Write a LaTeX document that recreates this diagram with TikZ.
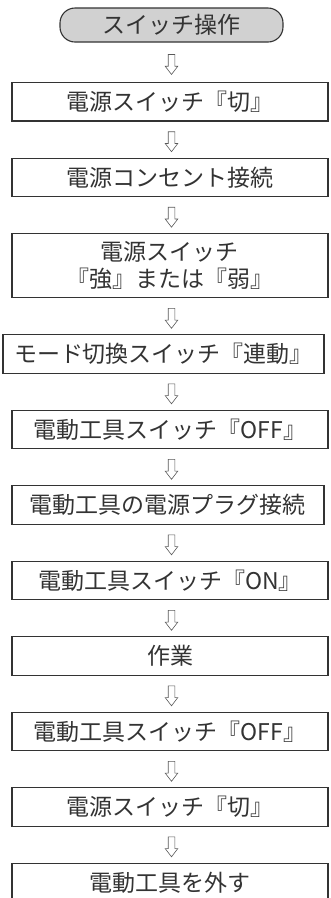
\documentclass[tikz,border=0pt]{standalone}
\usepackage{fontspec}
\setmainfont{Noto Sans CJK JP}
\usetikzlibrary{positioning, calc, shapes.arrows}

\begin{document}
\begin{tikzpicture}[
    x=1pt, y=1pt,
    node distance=36pt,
    stepbox/.style={rectangle, draw=black!80, line width=1.1pt, minimum width=316pt, minimum height=38.4pt, inner sep=0pt, text=black!80, align=center, font=\fontsize{23}{27}\selectfont},
    startbox/.style={rectangle, rounded corners=15pt, draw=black!80, line width=1.1pt, fill=black!18, minimum width=223pt, minimum height=34pt, inner sep=0pt, text=black!80, font=\fontsize{23}{27}\selectfont},
    arrowmark/.style={single arrow, shape border rotate=270, draw=black!65, line width=0.6pt, inner sep=3pt, single arrow head extend=3pt, single arrow tip angle=75, minimum height=20pt}
]
    \useasboundingbox (0,0) rectangle (330,-898);

    % Start
    \node[startbox] (top) at (171.5,-25) {スイッチ操作};

    % Steps
    \node[stepbox, below=39.5pt of top, xshift=-1.5pt] (off1) {電源スイッチ『切』};
    \node[stepbox, below=of off1] (outlet) {電源コンセント接続};
    \node[stepbox, below=of outlet, minimum height=64pt] (power) {電源スイッチ\\『強』または『弱』};
    \node[stepbox, below=of power, minimum width=321pt, xshift=-6.5pt] (mode) {モード切換スイッチ『連動』};
    \node[stepbox, below=of mode, xshift=6.5pt] (tooloff1) {電動工具スイッチ『OFF』};
    \node[stepbox, below=of tooloff1, minimum width=312pt, xshift=-2pt] (plug) {電動工具の電源プラグ接続};
    \node[stepbox, below=of plug, xshift=2pt] (toolon) {電動工具スイッチ『ON』};
    \node[stepbox, below=of toolon] (work) {作業};
    \node[stepbox, below=of work] (tooloff2) {電動工具スイッチ『OFF』};
    \node[stepbox, below=of tooloff2] (off2) {電源スイッチ『切』};
    \node[stepbox, below=of off2] (remove) {電動工具を外す};

    % Arrows
    \foreach \a/\b [count=\i] in {top/off1, off1/outlet, outlet/power, power/mode, mode/tooloff1, tooloff1/plug, plug/toolon, toolon/work, work/tooloff2, tooloff2/off2, off2/remove} {
        \coordinate (m\i) at ($(\a.south)!0.5!(\b.north)$);
        \node[arrowmark] (arr\i) at (m\i -| top) {};
    }

\end{tikzpicture}
\end{document}
